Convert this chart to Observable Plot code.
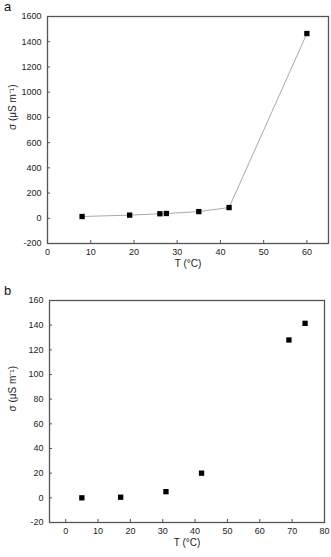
<!DOCTYPE html>
<html><head><meta charset="utf-8">
<script src="https://cdn.jsdelivr.net/npm/d3@7"></script>
<script src="https://cdn.jsdelivr.net/npm/@observablehq/plot@0.6"></script>
<style>
body{margin:0;background:#fff;width:331px;height:557px;overflow:hidden;position:relative;font-family:"Liberation Sans",Arial,sans-serif}
.panel{position:absolute;left:0}
.lbl{position:absolute;font-size:13px;line-height:14px;color:#111}
</style></head><body>
<div id="a" class="panel" style="top:0"></div>
<div id="b" class="panel" style="top:278px"></div>
<div class="lbl" style="left:4px;top:0px">a</div>
<div class="lbl" style="left:4px;top:284px">b</div>
<script>
const tempA = [8, 19, 26, 27.5, 35, 42, 60];
const sigmaA = [14, 25, 36, 38, 53, 85, 1465];
const tempB = [5, 17, 31, 42, 69, 74];
const sigmaB = [0, 0.5, 5, 20, 128, 141.5];
const xTicksA = [0, 10, 20, 30, 40, 50, 60];
const yTicksA = [-200, 0, 200, 400, 600, 800, 1000, 1200, 1400, 1600];
const xTicksB = [0, 10, 20, 30, 40, 50, 60, 70, 80];
const yTicksB = [-20, 0, 20, 40, 60, 80, 100, 120, 140, 160];
const xLabelA = "T (°C)";
const xLabelB = "T (°C)";
const yLabel = "σ (μS m⁻¹)";

function panel({temp, sigma, line, xDomain, yDomain, xTicks, yTicks, xLabel, width, height, mt, mr, mb, ml}) {
  const pw = width - ml - mr, ph = height - mt - mb;
  const data = temp.map((t, i) => ({t, s: sigma[i]}));
  const fmt = d => String(d);
  const marks = [
    Plot.frame({stroke: "#555", strokeWidth: 1.3}),
    Plot.tickY(yTicks, {y: d => d, insetRight: pw - 3, stroke: "#555"}),
    Plot.tickX(xTicks, {x: d => d, insetTop: ph - 3, stroke: "#555"}),
    Plot.axisY(yTicks, {tickSize: 0, tickPadding: 6, label: null, fill: "#222", tickFormat: fmt}),
    Plot.axisX(xTicks, {tickSize: 0, tickPadding: 5, label: null, fill: "#222", tickFormat: fmt}),
    Plot.text([yLabel], {text: d => d, frameAnchor: "left", dx: -(ml - 12), rotate: -90, fontSize: 10, fill: "#222"}),
    Plot.text([xLabel], {text: d => d, frameAnchor: "bottom", dy: 23, fontSize: 10, fill: "#222"})
  ];
  if (line) marks.push(Plot.line(data, {x: "t", y: "s", stroke: "#aaa", strokeWidth: 1}));
  marks.push(Plot.dot(data, {x: "t", y: "s", symbol: "square", r: 3, fill: "#000", stroke: "none"}));
  return Plot.plot({
    width, height, marginTop: mt, marginRight: mr, marginBottom: mb, marginLeft: ml,
    style: {fontFamily: "'Liberation Sans', Arial, sans-serif", fontSize: "9px", background: "#fff", overflow: "visible"},
    x: {domain: xDomain},
    y: {domain: yDomain},
    marks
  });
}

document.getElementById("a").append(panel({
  temp: tempA, sigma: sigmaA, line: true, xDomain: [0, 65], yDomain: [-200, 1600],
  xTicks: xTicksA, yTicks: yTicksA, xLabel: xLabelA,
  width: 331, height: 278, mt: 16, mr: 3, mb: 35, ml: 47
}));
document.getElementById("b").append(panel({
  temp: tempB, sigma: sigmaB, line: false, xDomain: [-5, 80], yDomain: [-20, 160],
  xTicks: xTicksB, yTicks: yTicksB, xLabel: xLabelB,
  width: 331, height: 279, mt: 22, mr: 7, mb: 35, ml: 49
}));
</script>
</body></html>
